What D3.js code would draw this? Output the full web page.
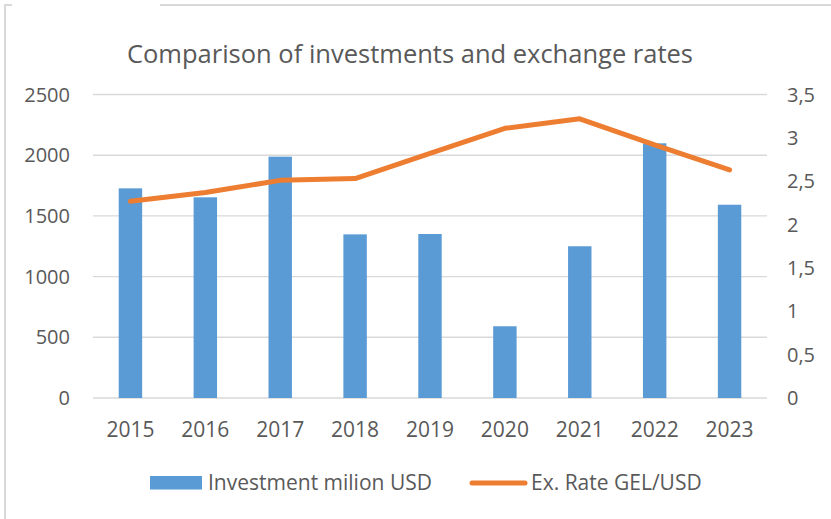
<!DOCTYPE html>
<html>
<head>
<meta charset="utf-8">
<script src="https://cdn.jsdelivr.net/npm/d3@7"></script>
<style>
  body { margin: 0; background: #fff; }
  svg { display: block; font-family: "Open Sans", sans-serif; }
</style>
</head>
<body>
<div id="chart"></div>
<script>
const years = ['2015', '2016', '2017', '2018', '2019', '2020', '2021', '2022', '2023'];
const investment = [1727, 1653, 1988, 1348, 1351, 591, 1250, 2098, 1592];
const exRate = [2.27, 2.37, 2.51, 2.53, 2.82, 3.11, 3.22, 2.92, 2.63];
const leftTicks = [0, 500, 1000, 1500, 2000, 2500];
const rightTicks = [0, 0.5, 1, 1.5, 2, 2.5, 3, 3.5];

const width = 831, height = 519;
const plot = { left: 93, right: 767, top: 94.5, bottom: 398 };
const textColor = '#595959';
const gridColor = '#d9d9d9';

const svg = d3.select('#chart').append('svg')
    .attr('width', width)
    .attr('height', height);

// outer frame (partially visible in the crop)
svg.append('path')
    .attr('d', 'M5,520 V5 H12 M160,5 H831')
    .attr('fill', 'none')
    .attr('stroke', '#d9d9d9')
    .attr('stroke-width', 2);

const x = d3.scaleBand()
    .domain(years)
    .range([plot.left, plot.right])
    .paddingInner(0.687)
    .paddingOuter(0.3435);

const yLeft = d3.scaleLinear().domain([0, 2500]).range([plot.bottom, plot.top]);
const yRight = d3.scaleLinear().domain([0, 3.5]).range([plot.bottom, plot.top]);

// gridlines
svg.append('g')
    .selectAll('line')
    .data(leftTicks)
    .join('line')
    .attr('x1', plot.left)
    .attr('x2', plot.right)
    .attr('y1', d => yLeft(d))
    .attr('y2', d => yLeft(d))
    .attr('stroke', gridColor)
    .attr('stroke-width', 1.4);

// left axis labels
svg.append('g')
    .selectAll('text')
    .data(leftTicks)
    .join('text')
    .attr('x', 70)
    .attr('y', d => yLeft(d) + 7)
    .attr('text-anchor', 'end')
    .attr('font-size', 20)
    .attr('fill', textColor)
    .text(d => d);

// right axis labels, comma decimals
svg.append('g')
    .selectAll('text')
    .data(rightTicks)
    .join('text')
    .attr('x', 787)
    .attr('y', d => yRight(d) + 7)
    .attr('font-size', 20)
    .attr('fill', textColor)
    .text(d => String(d).replace('.', ','));

// bars
svg.append('g')
    .selectAll('rect')
    .data(investment)
    .join('rect')
    .attr('x', (d, i) => x(years[i]))
    .attr('y', d => yLeft(d))
    .attr('width', x.bandwidth())
    .attr('height', d => plot.bottom - yLeft(d))
    .attr('fill', '#5b9bd5');

// rate line
const line = d3.line()
    .x((d, i) => x(years[i]) + x.bandwidth() / 2)
    .y(d => yRight(d));

svg.append('path')
    .datum(exRate)
    .attr('d', line)
    .attr('fill', 'none')
    .attr('stroke', '#ed7d31')
    .attr('stroke-width', 5)
    .attr('stroke-linecap', 'round')
    .attr('stroke-linejoin', 'round');

// x labels
svg.append('g')
    .selectAll('text')
    .data(years)
    .join('text')
    .attr('x', d => x(d) + x.bandwidth() / 2)
    .attr('y', 437)
    .attr('text-anchor', 'middle')
    .attr('font-size', 21)
    .attr('fill', textColor)
    .text(d => d);

// title
svg.append('text')
    .attr('x', 410)
    .attr('y', 63)
    .attr('text-anchor', 'middle')
    .attr('font-size', 25.5)
    .attr('fill', textColor)
    .text('Comparison of investments and exchange rates');

// legend
const legend = svg.append('g');
legend.append('rect')
    .attr('x', 150).attr('y', 476)
    .attr('width', 52).attr('height', 13.5)
    .attr('fill', '#5b9bd5');
legend.append('text')
    .attr('x', 208).attr('y', 490)
    .attr('font-size', 21)
    .attr('fill', textColor)
    .text('Investment milion USD');
legend.append('line')
    .attr('x1', 472).attr('x2', 525)
    .attr('y1', 483).attr('y2', 483)
    .attr('stroke', '#ed7d31')
    .attr('stroke-width', 5)
    .attr('stroke-linecap', 'round');
legend.append('text')
    .attr('x', 531).attr('y', 490)
    .attr('font-size', 21)
    .attr('fill', textColor)
    .text('Ex. Rate GEL/USD');
</script>
</body>
</html>
